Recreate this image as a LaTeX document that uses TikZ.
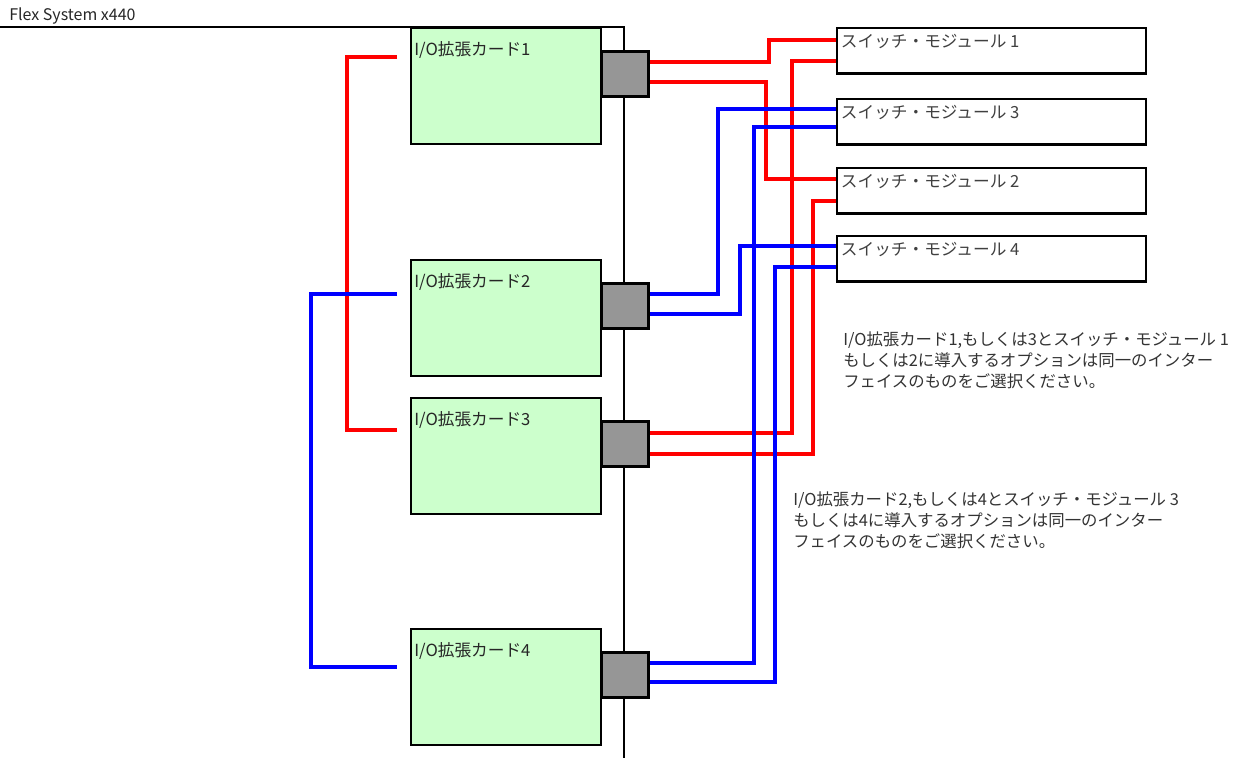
\documentclass[tikz,border=0pt]{standalone}
\usepackage{fontspec}
\setmainfont{Noto Sans CJK JP}
\usetikzlibrary{calc}

\definecolor{cardgreen}{HTML}{CCFFCC}
\definecolor{portgray}{HTML}{969696}

\begin{document}
\begin{tikzpicture}[x=0.75pt,y=-0.75pt,
  card/.style={draw,line width=1.8pt,fill=cardgreen,anchor=north west,inner sep=0pt,
    minimum width=142.5pt,minimum height=87pt},
  cardtext/.style={font=\fontsize{12.5}{15}\selectfont,text=black!85,inner sep=0pt,
    anchor=west,xshift=3pt,yshift=-17.25pt},
  port/.style={draw,line width=2.2pt,fill=portgray,anchor=north west,inner sep=0pt,
    minimum width=35pt,minimum height=34pt},
  switchbox/.style={draw,line width=1.8pt,fill=white,anchor=north west,inner sep=0pt,
    minimum width=231.5pt,minimum height=34pt},
  swtext/.style={font=\fontsize{12.5}{15}\selectfont,text=black!75,inner sep=0pt,
    anchor=west,xshift=3.5pt,yshift=-11.25pt},
  redwire/.style={draw=red,line width=3pt},
  bluewire/.style={draw=blue,line width=3pt},
  note/.style={font=\fontsize{12.3}{16.1}\selectfont,text=black!80,align=left,
    anchor=north west,inner sep=0pt}]
\useasboundingbox (0,0) rectangle (1247,758);

% chassis
\node[anchor=west,inner sep=0pt,font=\fontsize{12}{14}\selectfont,text=black!85] (title) at (9,16) {Flex System x440};
\coordinate (bp corner) at (624,27);
\draw[line width=1.5pt] (0,27) -- (bp corner) -- (624,758);

% I/O expansion cards
\node[card,label={[cardtext]north west:I/O拡張カード1}] (card1) at (410,27) {};
\node[card,label={[cardtext]north west:I/O拡張カード2}] (card2) at (410,259) {};
\node[card,label={[cardtext]north west:I/O拡張カード3}] (card3) at (410,397) {};
\node[card,label={[cardtext]north west:I/O拡張カード4}] (card4) at (410,628) {};

\node[port] (port1) at ($(card1.north east)+(-2,23)$) {};
\node[port] (port2) at ($(card2.north east)+(-2,23)$) {};
\node[port] (port3) at ($(card3.north east)+(-2,23)$) {};
\node[port] (port4) at ($(card4.north east)+(-2,23)$) {};

% switch modules
\node[switchbox,label={[swtext]north west:スイッチ・モジュール 1}] (sw1) at (836,27) {};
\node[switchbox,label={[swtext]north west:スイッチ・モジュール 3}] (sw3) at (836,98) {};
\node[switchbox,label={[swtext]north west:スイッチ・モジュール 2}] (sw2) at (836,167) {};
\node[switchbox,label={[swtext]north west:スイッチ・モジュール 4}] (sw4) at (836,235) {};

% card 1 / card 3 -> switch 1, 2
\draw[redwire] ($(port1.north east)+(0,12)$) -- ++(119,0) |- ($(sw1.north west)+(0,13)$);
\draw[redwire] ($(port1.north east)+(0,32)$) -- ++(116,0) |- ($(sw2.north west)+(0,12)$);
\draw[redwire] ($(port3.north east)+(0,13)$) -- ++(142,0) |- ($(sw1.north west)+(0,34)$);
\draw[redwire] ($(port3.north east)+(0,34)$) -- ++(163,0) |- ($(sw2.north west)+(0,34)$);

% card 2 / card 4 -> switch 3, 4
\draw[bluewire] ($(port2.north east)+(0,12)$) -- ++(68,0) |- ($(sw3.north west)+(0,11)$);
\draw[bluewire] ($(port2.north east)+(0,32)$) -- ++(90,0) |- ($(sw4.north west)+(0,11)$);
\draw[bluewire] ($(port4.north east)+(0,12)$) -- ++(104,0) |- ($(sw3.north west)+(0,29)$);
\draw[bluewire] ($(port4.north east)+(0,31)$) -- ++(125,0) |- ($(sw4.north west)+(0,32)$);

% pairing of cards
\draw[redwire] ($(card1.north west)+(-13,30)$) -- ++(-50,0) |- ($(card3.north west)+(-13,33)$);
\draw[bluewire] ($(card2.north west)+(-13,35)$) -- ++(-86,0) |- ($(card4.north west)+(-13,39)$);

% notes
\node[note] (note1) at (843,331) {I/O拡張カード1,もしくは3とスイッチ・モジュール 1\\もしくは2に導入するオプションは同一のインター\\フェイスのものをご選択ください。};
\node[note] (note2) at (793,491) {I/O拡張カード2,もしくは4とスイッチ・モジュール 3\\もしくは4に導入するオプションは同一のインター\\フェイスのものをご選択ください。};
\end{tikzpicture}
\end{document}
